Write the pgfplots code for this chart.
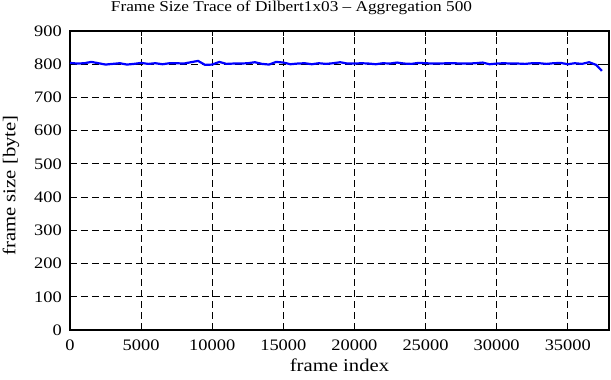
\documentclass[border=0pt]{standalone}
\usepackage{pgfplots}
\pgfplotsset{compat=1.18}
\usepackage{fontspec}
\setmainfont{Liberation Serif}[FakeStretch=1.15]
\pgfplotstableread{
x y
0 804
500 802
1000 803
1500 807
2000 803
2500 799
3000 801
3500 803
4000 799
4500 801
5000 804
5500 801
6000 803
6500 800
7000 803
7500 803
8000 802
8500 806
9000 810
9500 798
10000 799
10500 807
11000 801
11500 802
12000 802
12500 803
13000 806
13500 801
14000 799
14500 807
15000 805
15500 800
16000 802
16500 803
17000 800
17500 803
18000 801
18500 803
19000 806
19500 802
20000 802
20500 803
21000 802
21500 800
22000 803
22500 802
23000 805
23500 802
24000 801
24500 804
25000 803
25500 802
26000 802
26500 803
27000 803
27500 802
28000 802
28500 803
29000 805
29500 800
30000 802
30500 803
31000 802
31500 802
32000 801
32500 803
33000 803
33500 801
34000 803
34500 804
35000 800
35500 803
36000 801
36500 806
37000 798
37400 780
}\datatable
\begin{document}
\begin{tikzpicture}[x=1pt,y=1pt]
\path[use as bounding box] (-70,-50) rectangle (541,330);
\begin{axis}[
  at={(0,0)}, anchor=south west,
  scale only axis, width=539pt, height=299pt,
  xmin=0, xmax=37900, ymin=0, ymax=900,
  xtick={0,5000,...,35000}, ytick={0,100,...,900},
  /pgf/number format/assume math mode=true,
  /pgf/number format/1000 sep={},
  scaled x ticks=false,
  tick align=inside, tick pos=both,
  major tick length=5pt,
  grid=major,
  major grid style={black, line width=0.9pt, dash pattern=on 7pt off 4pt},
  axis line style={black, line width=1.8pt},
  every tick/.style={black, line width=1.2pt},
  tick label style={font=\fontsize{16}{19}\selectfont},
  xticklabel style={anchor=center, yshift=-15pt},
  yticklabel style={anchor=east, inner sep=0pt, xshift=-8pt},
  label style={font=\fontsize{18}{21}\selectfont},
  title style={font=\fontsize{15}{18}\selectfont, at={(axis description cs:0.5,1)}, anchor=base, inner sep=0pt, yshift=14pt, xshift=-48pt},
  title={Frame Size Trace of Dilbert1x03 -- Aggregation 500},
  xlabel={frame index},
  ylabel={frame size [byte]},
  xlabel style={at={(axis description cs:0.5,0)}, anchor=center, yshift=-35pt},
  ylabel style={at={(axis description cs:0,0.5)}, anchor=center, yshift=59pt, xshift=-5pt},
]
\addplot[color={rgb,255:red,0;green,0;blue,255}, line width=2.2pt, mark=none] table[x=x,y=y]{\datatable};
\end{axis}
\end{tikzpicture}
\end{document}
